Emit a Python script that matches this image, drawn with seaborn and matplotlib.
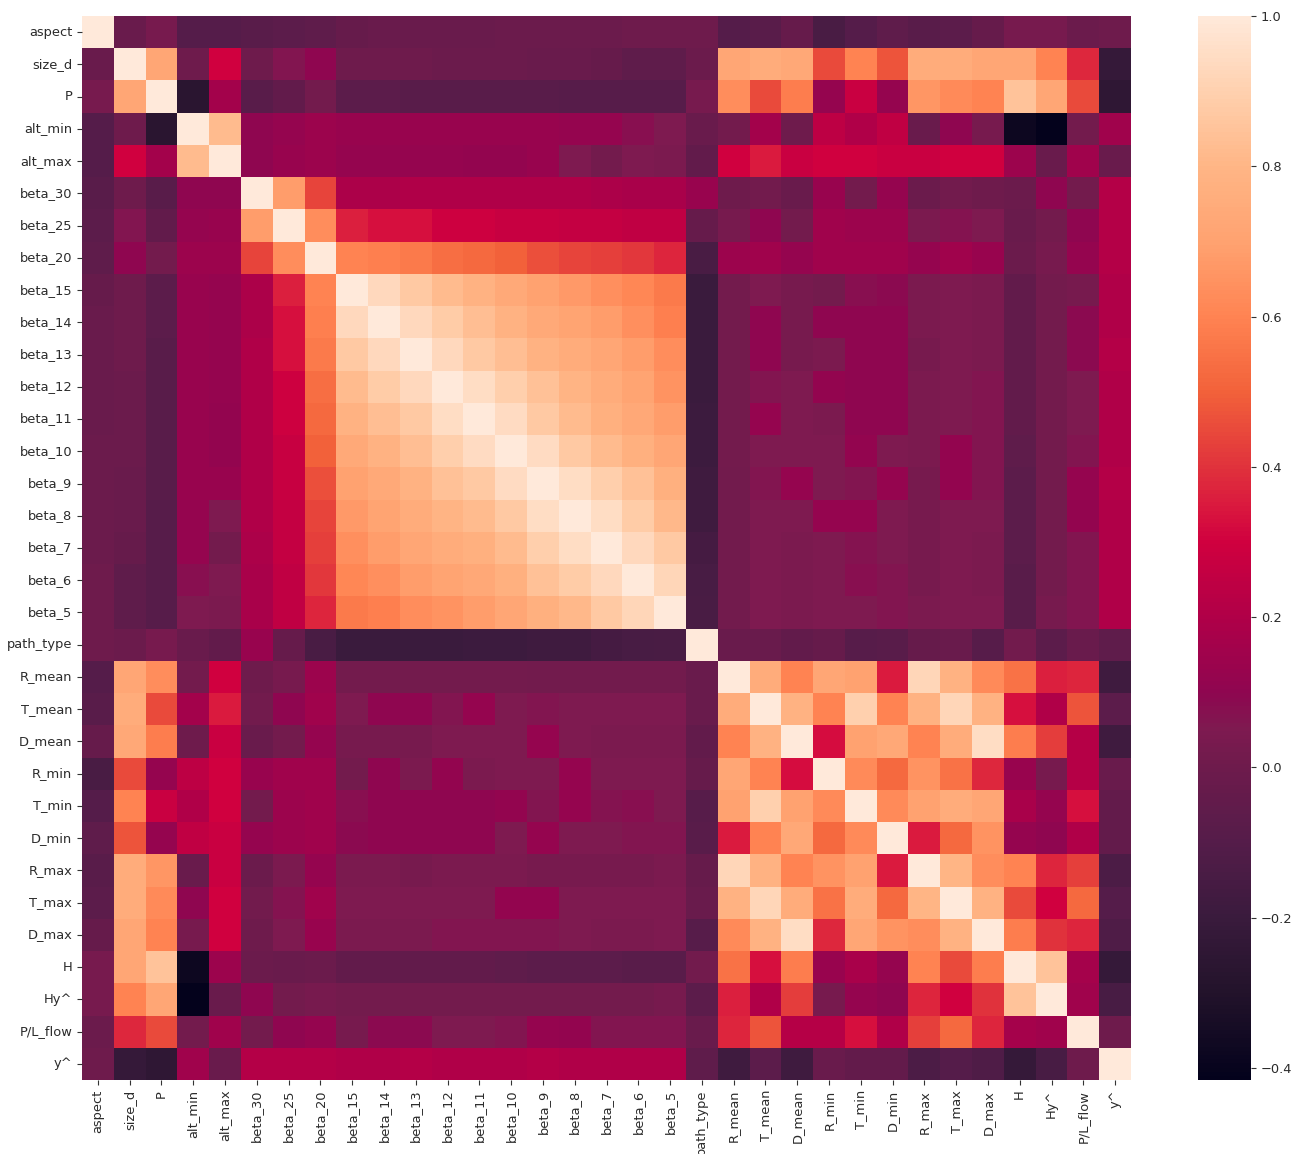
import numpy as np
import pandas as pd
import matplotlib
matplotlib.use('Agg')
import matplotlib.pyplot as plt
from matplotlib.colors import LinearSegmentedColormap
import seaborn as sns

labels = ['aspect', 'size_d', 'P', 'alt_min', 'alt_max', 'beta_30', 'beta_25', 'beta_20',
          'beta_15', 'beta_14', 'beta_13', 'beta_12', 'beta_11', 'beta_10', 'beta_9', 'beta_8',
          'beta_7', 'beta_6', 'beta_5', 'path_type', 'R_mean', 'T_mean', 'D_mean', 'R_min',
          'T_min', 'D_min', 'R_max', 'T_max', 'D_max', 'H', 'Hy^', 'P/L_flow', 'y^']

# upper triangle of the correlation matrix, each row starts at its diagonal
aspect = [1, -.02, .03, -.1, -.1, -.08, -.07, -.06, -.03, -.02, -.02, -.02, -.02, -.01, -.01, -.01, -.01, 0, 0,
          0, -.1, -.08, -.03, -.14, -.1, -.06, -.08, -.07, -.03, .03, .03, -.01, 0]
size_d = [1, .72, 0, .3, 0, .06, .1, 0, 0, 0, -.01, -.01, -.01, -.02, -.02, -.03, -.06, -.06,
          -.01, .72, .75, .73, .45, .6, .47, .75, .75, .72, .72, .6, .38, -.22]
p = [1, -.27, .16, -.08, -.05, .02, -.07, -.07, -.08, -.08, -.08, -.08, -.08, -.09, -.09, -.09, -.09,
     .03, .63, .45, .58, .12, .28, .12, .66, .62, .6, .85, .72, .45, -.25]
alt_min = [1, .82, .1, .12, .14, .13, .13, .13, .13, .13, .13, .13, .12, .12, .08, .05,
           -.02, .02, .16, 0, .24, .2, .25, -.02, .1, .03, -.38, -.42, .02, .15]
alt_max = [1, .1, .13, .14, .12, .12, .12, .12, .11, .11, .13, .05, .02, .05, .04,
           -.05, .3, .35, .28, .3, .3, .28, .28, .3, .3, .14, -.02, .15, -.02]
beta_30 = [1, .68, .44, .19, .19, .2, .2, .2, .2, .2, .2, .19, .18, .18,
           .13, 0, .01, -.02, .13, .02, .12, -.01, .01, 0, -.01, .1, .02, .21]
beta_25 = [1, .63, .36, .33, .33, .29, .29, .27, .27, .26, .26, .25, .25,
           -.03, .03, .1, .02, .15, .14, .14, .04, .07, .05, -.02, .02, .1, .21]
beta_20 = [1, .6, .59, .57, .54, .52, .5, .46, .44, .43, .41, .37,
           -.14, .14, .15, .12, .15, .15, .15, .12, .15, .13, -.01, .03, .12, .21]
beta_15 = [1, .93, .87, .82, .78, .74, .7, .67, .64, .61, .57,
           -.2, .02, .05, .03, .02, .08, .09, .04, .05, .04, -.05, .02, .03, .2]
beta_14 = [1, .93, .88, .83, .78, .74, .71, .68, .64, .59,
           -.2, .02, .1, .03, .1, .1, .1, .04, .05, .04, -.05, .02, .09, .2]
beta_13 = [1, .93, .87, .83, .78, .75, .72, .68, .63,
           -.2, .02, .1, .03, .04, .1, .1, .03, .05, .04, -.05, .02, .09, .21]
beta_12 = [1, .95, .89, .84, .79, .75, .71, .65,
           -.2, .02, .06, .05, .11, .1, .1, .04, .05, .06, -.05, .02, .05, .2]
beta_11 = [1, .94, .87, .82, .77, .73, .68,
           -.19, .02, .12, .05, .04, .1, .1, .04, .05, .06, -.05, .02, .05, .2]
beta_10 = [1, .94, .87, .82, .77, .72,
           -.19, .02, .05, .05, .05, .11, .05, .04, .11, .06, -.06, .02, .06, .2]
beta_9 = [1, .95, .89, .84, .77,
          -.18, .01, .06, .12, .05, .06, .12, .03, .11, .06, -.07, .02, .12, .21]
beta_8 = [1, .95, .88, .81,
          -.18, .01, .05, .05, .12, .12, .05, .03, .05, .05, -.07, .02, .11, .2]
beta_7 = [1, .93, .87,
          -.16, .01, .05, .04, .05, .07, .05, .03, .05, .04, -.07, .02, .06, .2]
beta_6 = [1, .92,
          -.15, .01, .05, .04, .05, .08, .06, .03, .05, .04, -.08, .02, .06, .2]
beta_5 = [1,
          -.14, .01, .05, .04, .05, .05, .06, .04, .05, .05, -.08, .03, .06, .2]
path_type = [1, -.02, -.02, -.05, -.03, -.09, -.08, -.03, -.02, -.09, .01, -.07, -.02, -.06]
r_mean = [1, .75, .6, .72, .7, .35, .92, .78, .62, .55, .36, .37, -.18]
t_mean = [1, .78, .6, .9, .6, .78, .92, .78, .33, .2, .47, -.07]
d_mean = [1, .32, .7, .73, .6, .75, .95, .58, .42, .22, -.18]
r_min = [1, .62, .52, .65, .55, .38, .13, .03, .22, -.02]
t_min = [1, .62, .7, .75, .72, .18, .12, .33, -.04]
d_min = [1, .35, .52, .65, .12, .1, .2, -.04]
r_max = [1, .8, .63, .6, .37, .43, -.13]
t_max = [1, .78, .45, .3, .52, -.1]
d_max = [1, .58, .4, .37, -.12]
h = [1, .85, .17, -.22]
hy = [1, .15, -.15]
pl_flow = [1, 0]
y = [1]

rows = [aspect, size_d, p, alt_min, alt_max, beta_30, beta_25, beta_20, beta_15, beta_14, beta_13,
        beta_12, beta_11, beta_10, beta_9, beta_8, beta_7, beta_6, beta_5, path_type, r_mean, t_mean,
        d_mean, r_min, t_min, d_min, r_max, t_max, d_max, h, hy, pl_flow, y]

# mirror the triangle
n = len(labels)
corr = np.zeros((n, n))
for i, row in enumerate(rows):
    corr[i, i:] = row
    corr[i:, i] = row
df = pd.DataFrame(corr, index=labels, columns=labels)

# the picture's colours are more saturated than plain rocket
VMIN, VMAX = -0.416, 1.0
cmap_values = [-.416, -.3, -.2, -.1, 0, .05, .1, .2, .3, .35, .4, .5, .6, .7, .8, .9, 1.0]
cmap_colors = ['#04021C', '#23132B', '#3A1B3D', '#551C4A', '#6E1B4C', '#7E1A50', '#8F0650', '#B00048',
               '#D0003F', '#DA1A3E', '#E0323C', '#F2613A', '#FF8352', '#FFA270', '#FFB585', '#FFD0AE',
               '#FFE9DA']
stops = [(v - VMIN) / (VMAX - VMIN) for v in cmap_values]
cmap = LinearSegmentedColormap.from_list('rocket_sat', list(zip(stops, cmap_colors)))

W, H = 1304, 1154
fig = plt.figure(figsize=(W / 100, H / 100), dpi=100)
ax = fig.add_axes([82 / W, 1 - 1080 / H, 1049 / W, 1064 / H])
cax = fig.add_axes([1198 / W, 1 - 1080 / H, 53 / W, 1064 / H])

sns.heatmap(df, ax=ax, cbar_ax=cax, cmap=cmap, vmin=VMIN, vmax=VMAX, xticklabels=True, yticklabels=True)
ax.tick_params(axis='both', labelsize=9.4, length=3.5, labelcolor='#2b2b2b', color='#333333')
plt.setp(ax.get_xticklabels(), rotation=90)
plt.setp(ax.get_yticklabels(), rotation=0)
cax.tick_params(labelsize=9.4, length=3.5, labelcolor='#2b2b2b', color='#333333')
cax.set_yticks([-0.4, -0.2, 0, 0.2, 0.4, 0.6, 0.8, 1.0])

fig.savefig('out.png', dpi=100)
